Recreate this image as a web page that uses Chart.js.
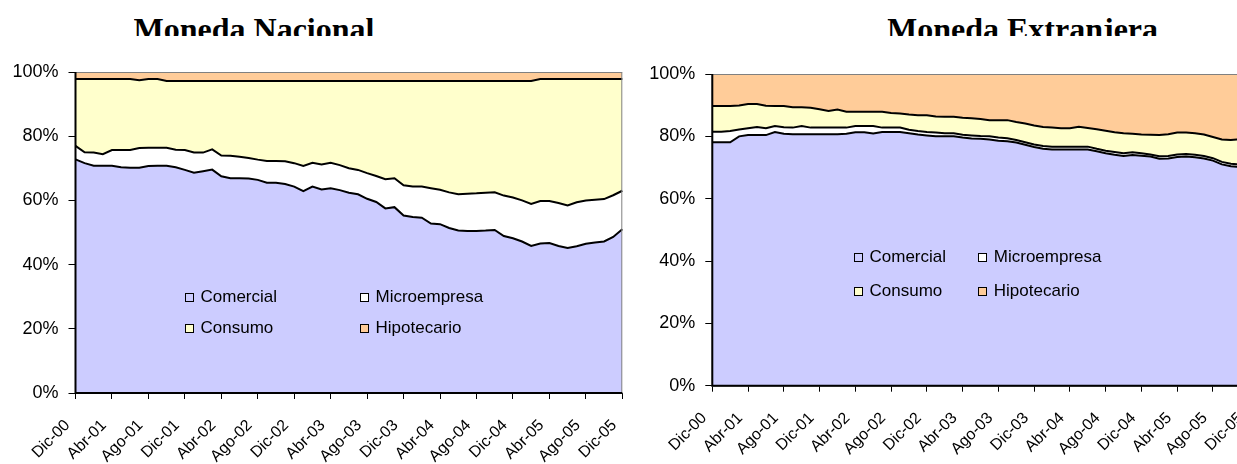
<!DOCTYPE html>
<html><head><meta charset="utf-8">
<script src="https://cdn.jsdelivr.net/npm/chart.js@4.4.0/dist/chart.umd.min.js"></script>
<style>
html,body{margin:0;padding:0;background:#fff;overflow:hidden;width:1237px;height:464px;position:relative;}
.title{position:absolute;font-family:"Liberation Serif","Times New Roman",serif;font-weight:bold;font-size:32px;line-height:32px;white-space:nowrap;overflow:hidden;color:#000;transform:translateX(-50%);}
canvas{position:absolute;top:0;}
.leg{position:absolute;display:flex;align-items:center;height:20px;font-family:"Liberation Sans",Arial,sans-serif;font-size:17px;color:#000;white-space:nowrap;}
.leg i{display:inline-block;width:7px;height:7px;border:1.5px solid #000;margin-right:6.5px;}
</style></head><body>
<div class="title" style="left:254px;top:12.7px;height:23.8px">Moneda Nacional</div>
<div class="title" style="left:1022.5px;top:12.7px;height:23.8px">Moneda Extranjera</div>
<canvas id="c1" width="640" height="464" style="left:0;width:640px;height:464px"></canvas>
<canvas id="c2" width="640" height="464" style="left:650px;width:640px;height:464px"></canvas>
<div id="legs"></div>
<script>
const months = ['Dic-00','Ene-01','Feb-01','Mar-01','Abr-01','May-01','Jun-01','Jul-01','Ago-01','Sep-01','Oct-01','Nov-01',
 'Dic-01','Ene-02','Feb-02','Mar-02','Abr-02','May-02','Jun-02','Jul-02','Ago-02','Sep-02','Oct-02','Nov-02',
 'Dic-02','Ene-03','Feb-03','Mar-03','Abr-03','May-03','Jun-03','Jul-03','Ago-03','Sep-03','Oct-03','Nov-03',
 'Dic-03','Ene-04','Feb-04','Mar-04','Abr-04','May-04','Jun-04','Jul-04','Ago-04','Sep-04','Oct-04','Nov-04',
 'Dic-04','Ene-05','Feb-05','Mar-05','Abr-05','May-05','Jun-05','Jul-05','Ago-05','Sep-05','Oct-05','Nov-05','Dic-05'];
const seriesNames = ['Comercial','Microempresa','Consumo','Hipotecario'];
const yTicks = [0,20,40,60,80,100];

// Moneda Nacional (% of total)
const nacComercial = [72.8,71.6,70.8,70.8,70.8,70.3,70.2,70.2,70.7,70.8,
 70.8,70.3,69.5,68.6,69.1,69.6,67.5,66.9,66.9,66.8,
 66.4,65.5,65.5,65.1,64.3,62.9,64.3,63.4,63.8,63.2,
 62.4,61.9,60.5,59.5,57.5,57.9,55.3,54.8,54.6,52.8,
 52.6,51.4,50.6,50.5,50.5,50.6,50.8,48.9,48.2,47.2,
 45.8,46.6,46.7,45.8,45.2,45.7,46.5,46.9,47.2,48.6,51.0];
const nacMicro = [4.2,3.4,4.1,3.6,4.9,5.4,5.5,6.1,5.7,5.6,
 5.6,5.5,6.2,6.3,5.8,6.3,6.5,7.0,6.7,6.4,
 6.3,6.8,6.8,7.1,7.3,7.8,7.4,7.8,7.9,7.8,
 7.6,7.6,8.0,8.1,9.1,9.0,9.4,9.5,9.7,11.0,
 10.7,11.1,11.3,11.6,11.7,11.8,11.7,12.6,12.7,12.8,
 13.1,13.2,13.1,13.4,13.2,13.7,13.5,13.3,13.2,13.0,12.0];
const nacConsumo = [20.8,22.8,22.9,23.4,22.1,22.1,22.1,21.1,21.4,21.4,
 20.8,21.4,21.5,22.3,22.3,21.3,23.2,23.3,23.6,24.0,
 24.5,24.9,24.9,25.0,25.6,26.5,25.5,26.0,25.5,26.2,
 27.2,27.7,28.7,29.6,30.6,30.3,32.5,32.9,32.9,33.4,
 33.9,34.7,35.3,35.1,35.0,34.8,34.7,35.7,36.3,37.2,
 38.3,38.0,38.0,38.6,39.4,38.4,37.8,37.6,37.4,36.2,34.8];
const nacHipotecario = [2.2,2.2,2.2,2.2,2.2,2.2,2.2,2.6,2.2,2.2,
 2.8,2.8,2.8,2.8,2.8,2.8,2.8,2.8,2.8,2.8,
 2.8,2.8,2.8,2.8,2.8,2.8,2.8,2.8,2.8,2.8,
 2.8,2.8,2.8,2.8,2.8,2.8,2.8,2.8,2.8,2.8,
 2.8,2.8,2.8,2.8,2.8,2.8,2.8,2.8,2.8,2.8,
 2.8,2.2,2.2,2.2,2.2,2.2,2.2,2.2,2.2,2.2,2.2];

// Moneda Extranjera (% of total)
const extComercial = [78.1,78.1,78.1,80.0,80.4,80.4,80.4,81.4,80.8,80.7,
 80.7,80.7,80.7,80.7,80.7,80.8,81.3,81.3,80.9,81.4,
 81.4,81.4,81.0,80.6,80.3,80.0,80.0,80.0,79.6,79.3,
 79.2,79.0,78.6,78.4,78.0,77.3,76.6,76.0,75.8,75.8,
 75.8,75.8,75.8,75.2,74.6,74.1,73.7,74.0,73.8,73.5,
 72.8,72.9,73.4,73.5,73.3,72.9,72.2,71.0,70.4,70.2,70.3];
const extMicro = [3.4,3.4,3.6,2.2,2.2,2.6,2.2,1.9,2.1,2.1,
 2.6,2.1,2.1,2.1,2.1,2.0,2.0,2.0,2.4,1.4,
 1.4,1.4,1.1,1.1,1.1,1.2,1.0,1.0,0.9,1.0,
 0.9,1.0,1.0,1.0,0.8,0.8,0.8,0.9,0.9,0.9,
 0.9,0.9,0.9,0.8,0.8,0.9,0.9,0.9,0.8,0.7,
 0.8,0.8,0.8,0.8,0.8,0.8,0.8,0.8,0.8,0.8,0.8];
const extConsumo = [8.2,8.2,8.0,7.7,7.8,7.4,7.2,6.4,6.8,6.5,
 6.0,6.4,5.9,5.3,5.8,5.1,4.6,4.6,4.6,5.1,
 4.7,4.5,4.9,5.1,5.4,5.2,5.3,5.3,5.5,5.5,
 5.5,5.2,5.6,5.8,5.8,6.0,6.1,6.1,6.1,5.9,
 5.9,6.4,6.0,6.3,6.4,6.3,6.4,5.9,6.0,6.3,
 6.8,7.0,7.0,6.9,6.9,6.9,6.8,7.2,7.6,8.1,8.2];
const extHipotecario = [10.3,10.3,10.3,10.1,9.6,9.6,10.2,10.3,10.3,10.7,
 10.7,10.8,11.3,11.9,11.4,12.1,12.1,12.1,12.1,12.1,
 12.5,12.7,13.0,13.2,13.2,13.6,13.7,13.7,14.0,14.2,
 14.4,14.8,14.8,14.8,15.4,15.9,16.5,17.0,17.2,17.4,
 17.4,16.9,17.3,17.7,18.2,18.7,19.0,19.2,19.4,19.5,
 19.6,19.3,18.8,18.8,19.0,19.4,20.2,21.0,21.2,20.9,20.7];

const fills = ['#CCCCFF','#FFFFFF','#FFFFCC','#FFCC99'];
const FONT = '"Liberation Sans", Arial, sans-serif';

const frame = {
  id:'frame',
  afterDatasetsDraw(chart){
    const {left,right,top,bottom} = chart.chartArea;
    const ctx = chart.ctx;
    ctx.save();
    ctx.strokeStyle = '#808080'; ctx.lineWidth = 1;
    ctx.strokeRect(left, top + 0.5, right - left - 0.5, bottom - top);
    ctx.strokeStyle = '#000'; ctx.lineWidth = 2;
    ctx.beginPath();
    ctx.moveTo(left, top); ctx.lineTo(left, bottom); ctx.lineTo(right, bottom);
    ctx.stroke();
    ctx.restore();
  }
};

// nudge rotated category labels slightly left, as in the original
const labelShift = {
  id:'labelShift',
  beforeDraw(chart){
    const items = chart.scales.x.getLabelItems();
    if (!items._shifted){
      items.forEach(it => { it.options.translation[0] -= 8; });
      items._shifted = true;
    }
  }
};

function makeChart(id, series, g){
  return new Chart(document.getElementById(id), {
    type:'line',
    data:{
      labels: months,
      datasets: seriesNames.map((n,k)=>({
        label:n, data:series[k], backgroundColor:fills[k],
        borderColor: k===3 ? '#666' : '#000', borderWidth: k===3 ? 1 : 2,
        fill: k===0 ? 'origin' : '-1', pointRadius:0, tension:0
      }))
    },
    options:{
      responsive:false, animation:false, events:[],
      layout:{padding:{top:g.top, right:g.right, left:0, bottom:0}},
      plugins:{legend:{display:false}, tooltip:{enabled:false}, title:{display:false}},
      scales:{
        x:{
          offset:false,
          grid:{drawOnChartArea:false, drawTicks:true, tickLength:6, tickWidth:1,
                tickColor: c => (c.index % 4 === 0 ? '#000' : 'rgba(0,0,0,0)')},
          border:{display:false},
          ticks:{autoSkip:false, maxRotation:45, minRotation:45, padding:17, color:'#000',
                 font:{family:FONT, size:16},
                 callback:(v,i)=> (i % 4 === 0 ? months[i] : '')},
          afterFit: s => { s.height = g.xh; s.paddingLeft = 0; s.paddingRight = 0; }
        },
        y:{
          stacked:true, min:0, max:100,
          afterBuildTicks: s => { s.ticks = yTicks.map(v=>({value:v})); },
          grid:{drawOnChartArea:false, tickLength:7, tickColor:'#000'},
          border:{display:false},
          ticks:{padding:10, color:'#000', font:{family:FONT, size:18}, callback:v=> v + '%'},
          afterFit: s => { s.width = g.yw; }
        }
      }
    },
    plugins:[frame, labelShift]
  });
}

const ch1 = makeChart('c1', [nacComercial, nacMicro, nacConsumo, nacHipotecario], {top:72, right:17.7, xh:71, yw:75.5});
const ch2 = makeChart('c2', [extComercial, extMicro, extConsumo, extHipotecario], {top:74, right:41.3, xh:78.3, yw:62.3});

// legends (HTML, from dataset labels/colors)
function legend(chart, cols, rows){
  const host = document.getElementById('legs');
  chart.data.datasets.forEach((ds,k)=>{
    const d = document.createElement('div');
    d.className = 'leg';
    d.style.left = cols[k % 2] + 'px';
    d.style.top = (rows[Math.floor(k / 2)] - 10) + 'px';
    const b = document.createElement('i');
    b.style.background = ds.backgroundColor;
    d.appendChild(b);
    d.appendChild(document.createTextNode(ds.label));
    host.appendChild(d);
  });
}
legend(ch1, [185, 360], [297, 328]);
legend(ch2, [854, 978.3], [257, 291]);
</script>
</body></html>
